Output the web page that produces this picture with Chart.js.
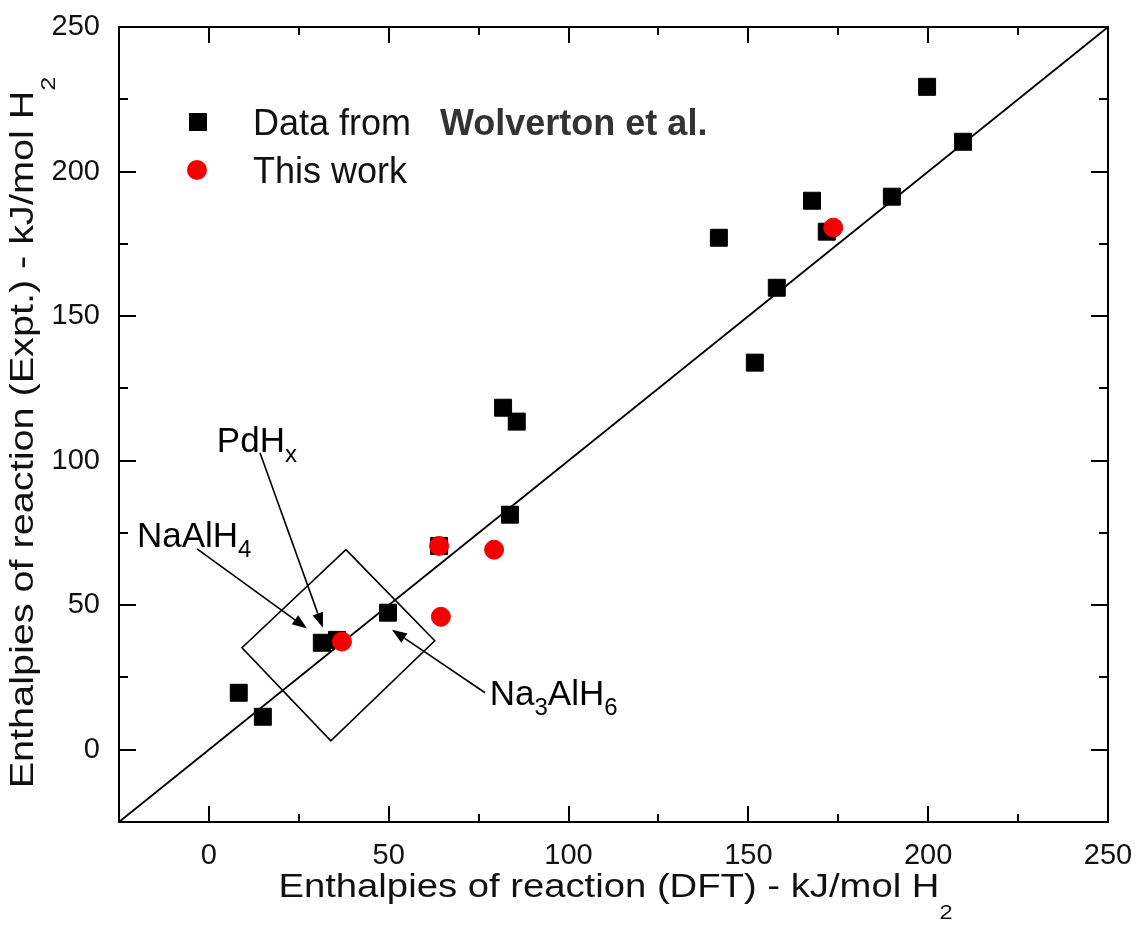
<!DOCTYPE html>
<html>
<head>
<meta charset="utf-8">
<script src="https://cdn.jsdelivr.net/npm/chart.js@4.4.1/dist/chart.umd.min.js"></script>
<style>
  body { margin: 0; background: #fff; }
  #wrap { width: 1137px; height: 939px; }
</style>
</head>
<body>
<div id="wrap"><canvas id="c"></canvas></div>
<script>
// values (kJ/mol H2)
const dftWolverton = [8.3, 15.0, 31.4, 35.6, 49.8, 64.0, 83.7, 81.8, 85.6, 141.8, 151.8, 157.9, 167.7, 171.8, 189.9, 199.7, 209.7];
const exptWolverton = [19.7, 11.4, 37.0, 38.0, 47.4, 70.5, 81.3, 118.3, 113.5, 177.1, 133.9, 159.8, 189.9, 179.2, 191.3, 229.3, 210.3];
const dftThisWork = [37.0, 64.0, 64.5, 79.3, 173.6];
const exptThisWork = [37.4, 70.5, 46.0, 69.2, 180.6];

const axisMin = -25;
const axisMax = 250;
const tickStep = 25;

// parity line and the boxed region (data units)
const parityX = [axisMin, axisMax];
const boxX = [38.1, 62.8, 33.9, 9.2, 38.1];
const boxY = [69.2, 37.7, 3.1, 35.3, 69.2];

// labels: text (_ marks a subscript char), label anchor, arrow start, arrow tip
const noteText = ['PdH_x', 'NaAlH_4', 'Na_3AlH_6'];
const noteAt = [[2.2, 103.1], [-20.0, 70.2], [78.1, 15.6]];
const arrowFrom = [[14.2, 102.7], [-3.3, 69.5], [76.8, 19.7]];
const arrowTo = [[31.7, 42.2], [27.3, 41.9], [50.9, 41.5]];

const FONT = 'Arial, "Liberation Sans", sans-serif';
const RED = '#f50000';

const pts = (xs, ys) => xs.map((v, i) => ({ x: v, y: ys[i] }));

function richText(ctx, str, x, y, size, subSize, subDrop, align) {
  const parts = [];
  for (let i = 0; i < str.length; i++) {
    if (str[i] === '_') { parts.push({ t: str[i + 1], sub: true }); i++; }
    else if (parts.length && !parts[parts.length - 1].sub) parts[parts.length - 1].t += str[i];
    else parts.push({ t: str[i], sub: false });
  }
  let w = 0;
  parts.forEach(p => {
    ctx.font = `${p.sub ? subSize : size}px ${FONT}`;
    p.w = ctx.measureText(p.t).width;
    w += p.w;
  });
  let cx = align === 'center' ? x - w / 2 : x;
  ctx.textAlign = 'left';
  ctx.textBaseline = 'alphabetic';
  parts.forEach(p => {
    ctx.font = `${p.sub ? subSize : size}px ${FONT}`;
    ctx.fillText(p.t, cx, p.sub ? y + subDrop : y);
    cx += p.w;
  });
}

const decor = {
  id: 'decor',
  afterDraw(chart) {
    const { ctx, chartArea: a, scales: { x, y } } = chart;
    ctx.save();
    ctx.strokeStyle = '#000';
    ctx.fillStyle = '#000';

    // frame with inward ticks on all four sides
    ctx.lineWidth = 2;
    ctx.strokeRect(a.left, a.top, a.right - a.left, a.bottom - a.top);
    ctx.beginPath();
    x.ticks.forEach(t => {
      const p = Math.round(x.getPixelForValue(t.value));
      const len = t.value % 50 === 0 ? 16 : 8;
      ctx.moveTo(p, a.bottom); ctx.lineTo(p, a.bottom - len);
      ctx.moveTo(p, a.top); ctx.lineTo(p, a.top + len);
    });
    y.ticks.forEach(t => {
      const p = Math.round(y.getPixelForValue(t.value));
      const len = t.value % 50 === 0 ? 17 : 9;
      ctx.moveTo(a.left, p); ctx.lineTo(a.left + len, p);
      ctx.moveTo(a.right, p); ctx.lineTo(a.right - len, p);
    });
    ctx.stroke();

    // arrows and formula labels
    ctx.lineWidth = 1.6;
    arrowFrom.forEach((f, i) => {
      const x0 = x.getPixelForValue(f[0]), y0 = y.getPixelForValue(f[1]);
      const x1 = x.getPixelForValue(arrowTo[i][0]), y1 = y.getPixelForValue(arrowTo[i][1]);
      const ang = Math.atan2(y1 - y0, x1 - x0);
      const hl = 15, hw = 5.5;
      const bx = x1 - hl * Math.cos(ang), by = y1 - hl * Math.sin(ang);
      ctx.beginPath();
      ctx.moveTo(x0, y0); ctx.lineTo(bx, by);
      ctx.stroke();
      ctx.beginPath();
      ctx.moveTo(x1, y1);
      ctx.lineTo(bx + hw * Math.sin(ang), by - hw * Math.cos(ang));
      ctx.lineTo(bx - hw * Math.sin(ang), by + hw * Math.cos(ang));
      ctx.closePath();
      ctx.fill();
    });
    noteText.forEach((s, i) => {
      richText(ctx, s, x.getPixelForValue(noteAt[i][0]), y.getPixelForValue(noteAt[i][1]), 35, 24, 10, 'left');
    });

    // axis titles
    ctx.fillStyle = '#111';
    ctx.save();
    ctx.translate((a.left + a.right) / 2 + 2, 897);
    ctx.scale(1.125, 1);
    richText(ctx, 'Enthalpies of reaction (DFT) - kJ/mol H_2', 0, 0, 34, 21, 22, 'center');
    ctx.restore();
    ctx.save();
    ctx.translate(33, (a.top + a.bottom) / 2 + 8);
    ctx.rotate(-Math.PI / 2);
    ctx.scale(1.2, 1);
    richText(ctx, 'Enthalpies of reaction (Expt.) - kJ/mol H_2', 0, 0, 33, 21, 22, 'center');
    ctx.restore();

    // legend
    const ds = chart.data.datasets;
    ctx.fillStyle = ds[1].backgroundColor;
    ctx.fillRect(189, 113, 18, 18);
    ctx.fillStyle = ds[0].backgroundColor;
    ctx.beginPath();
    ctx.arc(197, 170, 10, 0, Math.PI * 2);
    ctx.fill();
    ctx.fillStyle = '#111';
    ctx.textAlign = 'left';
    ctx.textBaseline = 'alphabetic';
    ctx.font = `36px ${FONT}`;
    ctx.fillText(ds[1].label, 253, 135);
    ctx.fillText(ds[0].label, 253, 183);
    ctx.fillStyle = '#333';
    ctx.font = `bold 36px ${FONT}`;
    ctx.fillText('Wolverton et al.', 440, 135);
    ctx.restore();
  }
};

// fixed axis band sizes; drop the label overhang padding so the plot frame stays put
const fixBand = (prop, size) => s => {
  s[prop] = size;
  s.paddingLeft = 0; s.paddingRight = 0; s.paddingTop = 0; s.paddingBottom = 0;
};

const axisOpts = (fit, pad) => ({
  type: 'linear',
  min: axisMin,
  max: axisMax,
  grid: { display: false, drawTicks: false },
  border: { display: false },
  afterFit: fit,
  ticks: {
    stepSize: tickStep,
    autoSkip: false,
    padding: pad,
    color: '#111',
    font: { family: FONT, size: 29 },
    callback: v => (v % 50 === 0 ? v : '')
  }
});

new Chart(document.getElementById('c'), {
  type: 'scatter',
  data: {
    datasets: [
      {
        label: 'This work',
        data: pts(dftThisWork, exptThisWork),
        backgroundColor: RED,
        borderColor: RED,
        pointStyle: 'circle',
        pointRadius: 9.5,
        pointBorderWidth: 1,
        order: 0
      },
      {
        label: 'Data from',
        data: pts(dftWolverton, exptWolverton),
        backgroundColor: '#000',
        borderColor: '#000',
        pointStyle: 'rect',
        pointRadius: 12,
        pointBorderWidth: 1,
        order: 1
      },
      {
        label: 'parity',
        data: pts(parityX, parityX),
        showLine: true,
        borderColor: '#000',
        borderWidth: 1.8,
        pointRadius: 0,
        order: 2
      },
      {
        label: 'box',
        data: pts(boxX, boxY),
        showLine: true,
        borderColor: '#000',
        borderWidth: 1.6,
        pointRadius: 0,
        order: 2
      }
    ]
  },
  options: {
    responsive: true,
    maintainAspectRatio: false,
    animation: false,
    devicePixelRatio: 1,
    layout: { padding: { top: 27, right: 29, left: 0, bottom: 0 } },
    plugins: {
      legend: { display: false },
      tooltip: { enabled: false }
    },
    scales: {
      x: axisOpts(fixBand('height', 117), 17),
      y: axisOpts(fixBand('width', 119), 19)
    }
  },
  plugins: [decor]
});
</script>
</body>
</html>
